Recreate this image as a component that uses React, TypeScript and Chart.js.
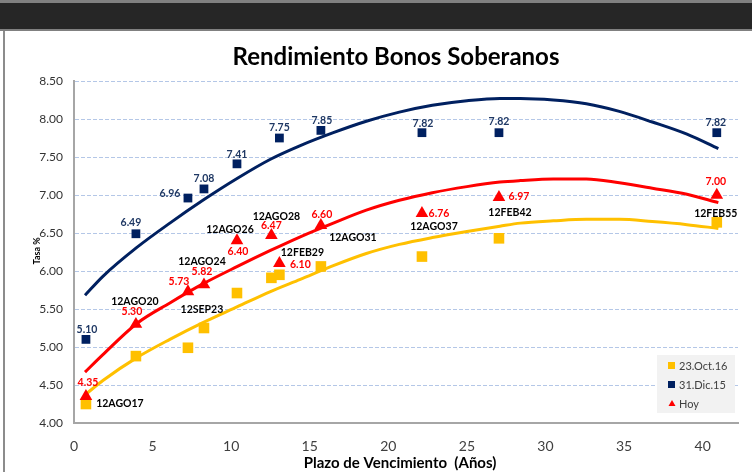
import React, { useEffect, useRef } from 'react';
import { Chart, registerables } from 'chart.js';

Chart.register(...registerables);

// ---------- DATA ----------
const bondNames = ['12AGO17', '12AGO20', '12SEP23', '12AGO24', '12AGO26', '12AGO28', '12FEB29', '12AGO31', '12AGO37', '12FEB42', '12FEB55'];
const maturities = [0.76, 3.94, 7.25, 8.27, 10.37, 12.56, 13.07, 15.71, 22.14, 27.04, 40.9];
const hoyRates = [4.35, 5.3, 5.73, 5.82, 6.4, 6.47, 6.1, 6.6, 6.76, 6.97, 7.0];
const oct16Rates = [4.25, 4.88, 4.99, 5.25, 5.71, 5.91, 5.95, 6.06, 6.19, 6.43, 6.64];
const dic15Maturities = [0.76, 3.94, 7.25, 8.27, 10.37, 13.07, 15.71, 22.14, 27.04, 40.9];
const dic15Rates = [5.1, 6.49, 6.96, 7.08, 7.41, 7.75, 7.85, 7.82, 7.82, 7.82];

// trend curves
const trendX = [0.7, 1.84, 4.0, 6.1, 8.2, 10.4, 12.5, 14.4, 16.5, 18.6, 20.7, 22.8, 25.0, 27.1, 28.4, 30.5, 32.6, 34.7, 36.8, 39.0, 41.0];
const dic15Trend = [5.68, 5.93, 6.31, 6.63, 6.93, 7.22, 7.47, 7.65, 7.82, 7.97, 8.09, 8.18, 8.24, 8.27, 8.27, 8.25, 8.2, 8.1, 7.96, 7.8, 7.61];
const hoyTrend = [4.67, 4.9, 5.31, 5.58, 5.83, 6.06, 6.27, 6.45, 6.63, 6.8, 6.93, 7.03, 7.11, 7.17, 7.19, 7.21, 7.21, 7.16, 7.09, 7.01, 6.9];
const oct16Trend = [4.37, 4.56, 4.86, 5.1, 5.32, 5.53, 5.73, 5.89, 6.07, 6.23, 6.35, 6.44, 6.52, 6.59, 6.63, 6.66, 6.68, 6.68, 6.65, 6.61, 6.56];

const xTicksMax = 42.25;
const yMin = 4.0;
const yMax = 8.5;

const seriesLabels = ['23.Oct.16', '31.Dic.15', 'Hoy'];

// label placement (pixel offsets from the marker)
const dic15ValueOffsets: [number, number][] = [[1, -10], [-5, -11], [-18, -4], [0, -10], [0, -9], [0, -10], [1, -10], [1, -9], [0, -11], [-1, -10]];
const hoyValueOffsets: [number, number][] = [[2, -14], [-4, -13], [-9, -10], [-2, -13], [1, 11], [0, -10], [21, 1], [1, -11], [17, 0], [20, -1], [-1, -13]];
const hoyNameOffsets: [number, number][] = [[34, 7], [-1, -23], [14, 18], [-2, -23], [-7, -11], [5, -19], [23, -11], [32, 12], [12, 13], [11, 15], [-1, 19]];

const NAVY = '#002060';
const RED = '#FF0000';
const YELLOW = '#FFC000';
const FONT = 'Lato, "Open Sans", sans-serif';

const framePlugin = {
  id: 'frame',
  beforeDraw(chart: any) {
    const ctx = chart.ctx;
    ctx.save();
    ctx.fillStyle = '#ffffff';
    ctx.fillRect(0, 0, chart.width, chart.height);
    ctx.fillStyle = '#808080';
    ctx.fillRect(0, 0, chart.width, 31);
    ctx.fillStyle = '#262626';
    ctx.fillRect(0, 3, chart.width, 26);
    ctx.fillStyle = '#8c8c8c';
    ctx.fillRect(3, 31, 2, chart.height - 31);
    ctx.restore();
  },
};

const textPlugin = {
  id: 'texts',
  afterDatasetsDraw(chart: any) {
    const ctx = chart.ctx;
    ctx.save();
    ctx.textBaseline = 'middle';
    ctx.textAlign = 'center';
    ctx.font = `bold 10.5px ${FONT}`;

    const navyMeta = chart.getDatasetMeta(4);
    navyMeta.data.forEach((pt: any, i: number) => {
      const o = dic15ValueOffsets[i];
      ctx.fillStyle = '#1F3864';
      ctx.fillText(dic15Rates[i].toFixed(2), pt.x + o[0], pt.y + o[1]);
    });

    const redMeta = chart.getDatasetMeta(5);
    redMeta.data.forEach((pt: any, i: number) => {
      const o = hoyValueOffsets[i];
      ctx.fillStyle = RED;
      ctx.fillText(hoyRates[i].toFixed(2), pt.x + o[0], pt.y + o[1]);
      const n = hoyNameOffsets[i];
      ctx.fillStyle = '#000000';
      ctx.fillText(bondNames[i], pt.x + n[0], pt.y + n[1]);
    });
    ctx.restore();
  },
  afterDraw(chart: any) {
    const ctx = chart.ctx;
    ctx.save();
    ctx.fillStyle = '#000000';
    ctx.textAlign = 'center';
    ctx.textBaseline = 'middle';
    ctx.font = `bold 24px ${FONT}`;
    ctx.fillText('Rendimiento Bonos Soberanos', 396, 57);

    ctx.font = `bold 15px ${FONT}`;
    ctx.fillText('Plazo de Vencimiento  (Años)', 400, 463);

    ctx.save();
    ctx.translate(37, 251);
    ctx.rotate(-Math.PI / 2);
    ctx.font = `bold 9px ${FONT}`;
    ctx.fillText('Tasa %', 0, 0);
    ctx.restore();

    // legend
    const lx = 657, ly = 355, lw = 78, lh = 58;
    ctx.fillStyle = '#F2F2F2';
    ctx.fillRect(lx, ly, lw, lh);
    const items = [
      { label: seriesLabels[0], color: YELLOW, shape: 'rect' },
      { label: seriesLabels[1], color: NAVY, shape: 'rect' },
      { label: seriesLabels[2], color: RED, shape: 'tri' },
    ];
    ctx.font = `11px ${FONT}`;
    ctx.textAlign = 'left';
    items.forEach((it, i) => {
      const cy = ly + 11 + i * 19;
      ctx.fillStyle = it.color;
      if (it.shape === 'rect') {
        ctx.fillRect(668, cy - 4, 7, 7);
      } else {
        ctx.beginPath();
        ctx.moveTo(672, cy - 4);
        ctx.lineTo(675.5, cy + 2);
        ctx.lineTo(668.5, cy + 2);
        ctx.closePath();
        ctx.fill();
      }
      ctx.fillStyle = '#404040';
      ctx.fillText(it.label, 679, cy);
    });
    ctx.restore();
  },
};

function buildConfig(): any {
  const toPts = (xs: number[], ys: number[]) => xs.map((x, i) => ({ x, y: ys[i] }));
  return {
    type: 'scatter',
    data: {
      datasets: [
        { label: 'trend dic15', data: toPts(trendX, dic15Trend), showLine: true, borderColor: NAVY, borderWidth: 3, pointRadius: 0, cubicInterpolationMode: 'monotone', order: 6 },
        { label: 'trend hoy', data: toPts(trendX, hoyTrend), showLine: true, borderColor: RED, borderWidth: 3, pointRadius: 0, cubicInterpolationMode: 'monotone', order: 5 },
        { label: 'trend oct16', data: toPts(trendX, oct16Trend), showLine: true, borderColor: YELLOW, borderWidth: 3, pointRadius: 0, cubicInterpolationMode: 'monotone', order: 4 },
        { label: seriesLabels[0], data: toPts(maturities, oct16Rates), pointStyle: 'rect', pointRadius: 7.5, backgroundColor: YELLOW, borderColor: YELLOW, borderWidth: 0, order: 3 },
        { label: seriesLabels[1], data: toPts(dic15Maturities, dic15Rates), pointStyle: 'rect', pointRadius: 6.2, backgroundColor: NAVY, borderColor: NAVY, borderWidth: 0, order: 2 },
        { label: seriesLabels[2], data: toPts(maturities, hoyRates), pointStyle: 'triangle', pointRadius: 7.3, backgroundColor: RED, borderColor: RED, borderWidth: 0, order: 1 },
      ],
    },
    options: {
      responsive: false,
      animation: false,
      events: [],
      layout: { padding: { left: 0, top: 81, right: 14, bottom: 0 } },
      plugins: { legend: { display: false }, tooltip: { enabled: false }, title: { display: false } },
      scales: {
        x: {
          type: 'linear',
          min: 0,
          max: xTicksMax,
          ticks: { stepSize: 5, includeBounds: false, color: '#404040', font: { size: 14, family: FONT }, padding: 15, maxRotation: 0 },
          grid: { display: false, drawTicks: false },
          border: { display: true, color: '#A6A6A6', width: 2 },
          afterFit: (s: any) => { s.height = 49; },
        },
        y: {
          min: yMin,
          max: yMax,
          ticks: { stepSize: 0.5, color: '#333333', font: { size: 12, family: FONT }, padding: 11, callback: (v: any) => Number(v).toFixed(2) },
          grid: { color: '#B4C7E7', lineWidth: 1, drawTicks: false },
          border: { display: true, color: '#A6A6A6', width: 2, dash: [4, 2] },
          afterFit: (s: any) => { s.width = 74; },
        },
      },
    },
    plugins: [framePlugin, textPlugin],
  };
}

export default function App() {
  const ref = useRef<HTMLCanvasElement>(null);
  useEffect(() => {
    if (!ref.current) return;
    const chart = new Chart(ref.current, buildConfig());
    let alive = true;
    const fonts: any = (document as any).fonts;
    if (fonts && fonts.load) {
      Promise.all([fonts.load('bold 12px Lato'), fonts.load('12px Lato')])
        .then(() => { if (alive) chart.update(); })
        .catch(() => {});
    }
    return () => { alive = false; chart.destroy(); };
  }, []);
  return (
    <div style={{ position: 'fixed', left: 0, top: 0, width: 752, height: 472, background: '#fff' }}>
      <canvas ref={ref} width={752} height={472} style={{ display: 'block', width: 752, height: 472 }} />
    </div>
  );
}
